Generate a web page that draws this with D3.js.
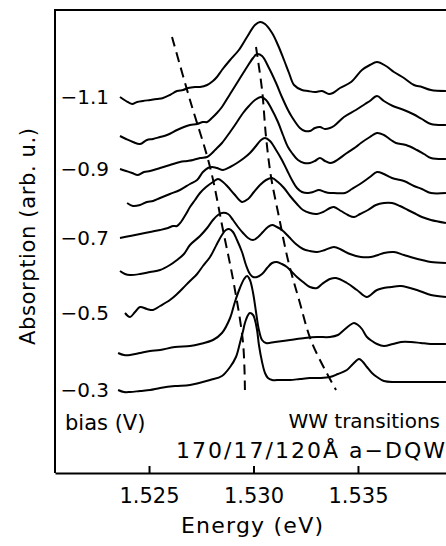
<!DOCTYPE html>
<html>
<head>
<meta charset="utf-8">
<script src="https://cdnjs.cloudflare.com/ajax/libs/d3/7.8.5/d3.min.js"></script>
<style>
    body { margin: 0; background: #fff; }
    text { font-family: "DejaVu Sans", sans-serif; fill: #000; }
    .spec { fill: none; stroke: #000; stroke-width: 2; stroke-linejoin: round; }
    .guide { fill: none; stroke: #000; stroke-width: 2; stroke-dasharray: 10,6; }
    .frame { stroke: #000; stroke-width: 2; }
</style>
</head>
<body>
<script>
// bias voltage of each spectrum, top to bottom
let biases = [-1.1, -1.0, -0.9, -0.8, -0.7, -0.6, -0.5, -0.4, -0.3];

// spectra: [energy (eV), absorption (arb. u., offset)]
let spec_11 = [[1.52361,37.6],[1.52390,37.2],[1.52419,36.9],[1.52443,37.1],[1.52471,37.2],[1.52505,37.3],[1.52538,37.4],[1.52567,37.5],[1.52600,37.8],[1.52634,38.2],[1.52663,38.3],[1.52687,38.5],[1.52720,38.6],[1.52744,38.6],[1.52778,38.8],[1.52806,39.2],[1.52825,39.6],[1.52849,40.3],[1.52888,41.3],[1.52930,42.3],[1.52969,43.6],[1.53007,44.8],[1.53031,45.1],[1.53055,44.9],[1.53089,44.0],[1.53117,42.8],[1.53146,41.3],[1.53170,40.0],[1.53194,38.8],[1.53232,38.3],[1.53261,38.2],[1.53294,38.1],[1.53328,38.2],[1.53361,37.9],[1.53380,38.0],[1.53414,38.5],[1.53467,39.1],[1.53519,40.3],[1.53557,40.8],[1.53591,41.1],[1.53634,40.7],[1.53672,40.1],[1.53720,39.5],[1.53768,38.8],[1.53806,38.6],[1.53849,38.3],[1.53921,38.2]];
let spec_10 = [[1.52361,33.7],[1.52390,33.4],[1.52423,33.1],[1.52457,32.9],[1.52490,33.3],[1.52519,33.4],[1.52553,33.6],[1.52586,33.8],[1.52634,34.3],[1.52667,34.6],[1.52696,34.8],[1.52730,34.9],[1.52758,35.1],[1.52778,35.1],[1.52801,35.5],[1.52825,36.0],[1.52849,36.6],[1.52888,37.9],[1.52930,39.3],[1.52969,40.6],[1.52998,41.5],[1.53017,41.9],[1.53041,41.7],[1.53074,40.5],[1.53108,39.0],[1.53136,37.6],[1.53165,36.3],[1.53184,35.6],[1.53222,34.5],[1.53246,34.2],[1.53270,34.2],[1.53294,34.5],[1.53318,34.6],[1.53342,34.4],[1.53366,34.5],[1.53385,34.7],[1.53433,35.6],[1.53490,36.3],[1.53534,36.9],[1.53557,37.2],[1.53591,37.7],[1.53624,37.2],[1.53667,36.7],[1.53720,36.3],[1.53763,35.9],[1.53806,35.4],[1.53849,34.9],[1.53921,34.8]];
let spec_09 = [[1.52361,30.4],[1.52390,30.2],[1.52419,30.0],[1.52447,29.8],[1.52476,30.1],[1.52505,30.2],[1.52553,30.5],[1.52600,30.8],[1.52648,31.1],[1.52682,31.2],[1.52711,31.3],[1.52744,31.5],[1.52778,31.6],[1.52797,31.9],[1.52816,32.3],[1.52849,33.0],[1.52888,34.1],[1.52921,35.1],[1.52950,36.0],[1.52978,36.7],[1.53007,37.3],[1.53036,37.6],[1.53060,37.3],[1.53089,36.3],[1.53117,35.1],[1.53141,33.8],[1.53165,32.6],[1.53184,32.0],[1.53213,31.3],[1.53242,31.0],[1.53270,31.0],[1.53294,31.2],[1.53318,31.5],[1.53342,31.2],[1.53366,31.0],[1.53385,31.1],[1.53447,32.0],[1.53490,32.6],[1.53514,33.0],[1.53557,33.6],[1.53591,34.0],[1.53624,33.8],[1.53658,33.3],[1.53682,33.0],[1.53730,32.8],[1.53782,32.3],[1.53816,31.9],[1.53849,31.5],[1.53921,31.4]];
let spec_08 = [[1.52395,27.0],[1.52423,26.7],[1.52457,26.8],[1.52490,27.1],[1.52519,27.2],[1.52553,27.5],[1.52600,27.9],[1.52648,28.3],[1.52696,28.9],[1.52730,29.3],[1.52758,30.1],[1.52782,30.5],[1.52801,30.6],[1.52825,30.5],[1.52854,30.3],[1.52888,30.6],[1.52921,31.0],[1.52955,31.5],[1.52983,32.0],[1.53012,32.7],[1.53036,33.3],[1.53055,33.5],[1.53079,33.2],[1.53108,32.3],[1.53136,31.3],[1.53160,30.3],[1.53184,29.3],[1.53208,28.5],[1.53232,28.1],[1.53261,28.0],[1.53285,28.1],[1.53313,28.3],[1.53342,28.1],[1.53366,28.0],[1.53385,28.0],[1.53438,28.0],[1.53471,28.4],[1.53510,28.9],[1.53557,29.6],[1.53591,30.1],[1.53624,29.9],[1.53663,29.5],[1.53720,29.2],[1.53768,28.7],[1.53806,28.4],[1.53849,28.0],[1.53921,28.0]];
let spec_07 = [[1.52361,23.5],[1.52409,23.7],[1.52457,23.9],[1.52505,24.1],[1.52553,24.3],[1.52591,24.5],[1.52615,24.7],[1.52634,24.7],[1.52653,25.1],[1.52677,25.9],[1.52696,26.6],[1.52720,27.3],[1.52744,28.0],[1.52773,28.6],[1.52806,29.1],[1.52830,29.4],[1.52854,29.1],[1.52878,28.6],[1.52907,27.9],[1.52945,27.1],[1.52974,27.4],[1.53002,28.1],[1.53031,28.8],[1.53060,29.3],[1.53089,29.5],[1.53117,29.1],[1.53146,28.5],[1.53175,27.7],[1.53208,26.9],[1.53237,26.3],[1.53270,26.0],[1.53304,25.9],[1.53333,26.1],[1.53366,26.5],[1.53385,26.6],[1.53419,26.2],[1.53452,25.8],[1.53481,25.6],[1.53510,25.9],[1.53548,26.3],[1.53586,26.8],[1.53624,27.0],[1.53663,27.0],[1.53701,26.7],[1.53739,26.3],[1.53768,26.0],[1.53806,25.6],[1.53849,25.3],[1.53921,25.0]];
let spec_06 = [[1.52361,20.2],[1.52385,19.9],[1.52409,19.8],[1.52457,19.9],[1.52505,20.1],[1.52553,20.3],[1.52600,20.8],[1.52634,21.3],[1.52667,21.9],[1.52696,22.8],[1.52744,23.7],[1.52778,24.5],[1.52806,25.3],[1.52830,25.8],[1.52849,26.0],[1.52878,25.9],[1.52902,25.3],[1.52926,24.6],[1.52950,24.0],[1.52974,23.5],[1.52998,23.3],[1.53022,23.6],[1.53045,24.1],[1.53069,24.6],[1.53089,24.8],[1.53112,24.6],[1.53136,24.3],[1.53170,23.6],[1.53203,22.9],[1.53237,22.4],[1.53270,22.2],[1.53304,22.1],[1.53342,22.3],[1.53385,22.6],[1.53423,22.3],[1.53462,21.9],[1.53514,21.6],[1.53562,21.6],[1.53596,21.8],[1.53624,22.0],[1.53672,22.1],[1.53720,21.8],[1.53768,21.5],[1.53806,21.3],[1.53849,21.1],[1.53921,21.0]];
let spec_05 = [[1.52385,16.0],[1.52409,15.6],[1.52433,16.1],[1.52457,16.6],[1.52490,16.4],[1.52519,16.3],[1.52553,16.7],[1.52600,17.3],[1.52634,17.9],[1.52663,18.5],[1.52696,19.2],[1.52730,19.9],[1.52758,20.7],[1.52792,21.6],[1.52825,22.9],[1.52849,23.8],[1.52868,24.3],[1.52883,24.4],[1.52902,24.1],[1.52921,23.3],[1.52945,22.1],[1.52964,20.8],[1.52983,19.9],[1.52998,19.6],[1.53017,19.6],[1.53041,19.9],[1.53065,20.5],[1.53089,21.0],[1.53112,21.1],[1.53136,20.9],[1.53160,20.6],[1.53184,20.1],[1.53208,19.6],[1.53237,19.1],[1.53270,18.6],[1.53304,18.5],[1.53328,18.9],[1.53366,19.4],[1.53395,19.5],[1.53447,19.0],[1.53495,18.3],[1.53543,17.6],[1.53591,18.3],[1.53658,18.6],[1.53706,18.7],[1.53782,18.3],[1.53849,17.8],[1.53921,17.6]];
let spec_04 = [[1.52352,12.0],[1.52380,11.8],[1.52409,11.8],[1.52457,12.0],[1.52505,12.2],[1.52553,12.3],[1.52624,12.6],[1.52696,12.7],[1.52744,12.9],[1.52806,13.3],[1.52849,14.0],[1.52888,15.5],[1.52911,17.1],[1.52935,18.5],[1.52955,19.4],[1.52969,19.7],[1.52983,19.3],[1.52998,18.0],[1.53012,16.1],[1.53026,14.3],[1.53041,13.3],[1.53060,13.0],[1.53103,13.1],[1.53175,13.3],[1.53246,13.5],[1.53304,13.6],[1.53366,13.6],[1.53404,13.8],[1.53433,14.3],[1.53462,14.8],[1.53481,15.0],[1.53500,14.8],[1.53519,14.4],[1.53543,13.6],[1.53567,13.2],[1.53591,12.9],[1.53624,12.7],[1.53667,12.9],[1.53706,13.1],[1.53754,13.1],[1.53801,13.0],[1.53849,12.9],[1.53921,12.9]];
let spec_03 = [[1.52352,8.3],[1.52380,8.1],[1.52409,8.1],[1.52457,8.2],[1.52505,8.3],[1.52553,8.5],[1.52624,8.7],[1.52696,8.8],[1.52792,9.3],[1.52849,9.7],[1.52888,10.6],[1.52916,11.6],[1.52935,13.0],[1.52950,14.2],[1.52959,15.0],[1.52974,15.8],[1.52983,16.0],[1.52998,15.8],[1.53007,15.3],[1.53017,14.3],[1.53026,12.8],[1.53041,11.1],[1.53055,10.0],[1.53069,9.5],[1.53089,9.3],[1.53127,9.3],[1.53175,9.3],[1.53222,9.4],[1.53270,9.5],[1.53318,9.5],[1.53366,9.6],[1.53404,9.9],[1.53447,10.3],[1.53476,10.9],[1.53505,11.4],[1.53524,11.1],[1.53543,10.6],[1.53567,10.0],[1.53591,9.6],[1.53624,9.2],[1.53677,9.1],[1.53749,9.1],[1.53821,9.1],[1.53921,9.1]];

let spectra = [spec_11, spec_10, spec_09, spec_08, spec_07, spec_06, spec_05, spec_04, spec_03];

// dashed guides through the transitions
let guideLeft = [[1.52610,43.6],[1.52696,37.3],[1.52792,30.6],[1.52854,24.3],[1.52907,18.8],[1.52950,13.0],[1.52959,8.3]];
let guideRight = [[1.53012,42.6],[1.53041,38.3],[1.53060,33.6],[1.53084,29.6],[1.53122,25.6],[1.53165,21.3],[1.53218,17.3],[1.53280,13.0],[1.53395,8.3]];

let energyTicks = [1.525, 1.530, 1.535];

let margin = {top: 10, left: 55, bottom: 73};
let width = 446;
let height = 546;

let svg = d3.select("body")
    .append("svg")
    .attr("width", width)
    .attr("height", height);

let xScale = d3.scaleLinear().domain([1.5205, 1.5395]).range([margin.left, 452]);
let yScale = d3.scaleLinear().domain([0, 46.3]).range([height - margin.bottom, margin.top]);

let line = d3.line()
    .x(d => xScale(d[0]))
    .y(d => yScale(d[1]))
    .curve(d3.curveCatmullRom.alpha(0.5));

// frame: left and top
svg.append("line").attr("class", "frame")
    .attr("x1", margin.left).attr("x2", margin.left)
    .attr("y1", margin.top - 1).attr("y2", height - margin.bottom);
svg.append("line").attr("class", "frame")
    .attr("x1", margin.left - 1).attr("x2", width)
    .attr("y1", margin.top).attr("y2", margin.top);

// bottom axis, ticks pointing inward
let xAxis = d3.axisBottom(xScale)
    .tickValues(energyTicks)
    .tickFormat(d3.format(".3f"))
    .tickSizeInner(-7)
    .tickSizeOuter(0);

svg.append("g")
    .attr("transform", "translate(0," + (height - margin.bottom) + ")")
    .call(xAxis)
    .call(g => g.select(".domain").attr("stroke-width", 2))
    .call(g => g.selectAll(".tick line").attr("stroke-width", 2))
    .call(g => g.selectAll(".tick text")
        .attr("y", 30).attr("dy", null)
        .style("font-size", "21px")
        .style("font-family", "DejaVu Sans, sans-serif"));

// spectra
svg.selectAll(".spec")
    .data(spectra)
    .enter()
    .append("path")
    .attr("class", "spec")
    .attr("d", d => line(d));

// guides
svg.selectAll(".guide")
    .data([guideLeft, guideRight])
    .enter()
    .append("path")
    .attr("class", "guide")
    .attr("d", d => line(d));

// bias labels on every other spectrum
let fmt = d3.format(".1f");
svg.selectAll(".bias")
    .data(biases.map((b, i) => ({b: b, s: spectra[i]})).filter((d, i) => i % 2 == 0))
    .enter()
    .append("text")
    .attr("class", "bias")
    .attr("x", 109)
    .attr("y", d => yScale(d.s[0][1]))
    .attr("dy", "0.36em")
    .attr("text-anchor", "end")
    .style("font-size", "20px")
    .text(d => fmt(d.b));

svg.append("text")
    .attr("x", 65).attr("y", 430)
    .style("font-size", "21px")
    .text("bias (V)");

svg.append("text")
    .attr("x", 440).attr("y", 428)
    .attr("text-anchor", "end")
    .style("font-size", "20px")
    .text("WW transitions");

svg.append("text")
    .attr("x", 176).attr("y", 458)
    .attr("textLength", 269)
    .attr("lengthAdjust", "spacing")
    .style("font-size", "22px")
    .text("170/17/120Å a−DQW");

svg.append("text")
    .attr("x", 181).attr("y", 533)
    .attr("textLength", 142)
    .attr("lengthAdjust", "spacing")
    .style("font-size", "22px")
    .text("Energy (eV)");

svg.append("text")
    .attr("transform", "translate(35," + 345 + ") rotate(-90)")
    .attr("textLength", 217)
    .attr("lengthAdjust", "spacing")
    .style("font-size", "21px")
    .text("Absorption (arb. u.)");
</script>
</body>
</html>
